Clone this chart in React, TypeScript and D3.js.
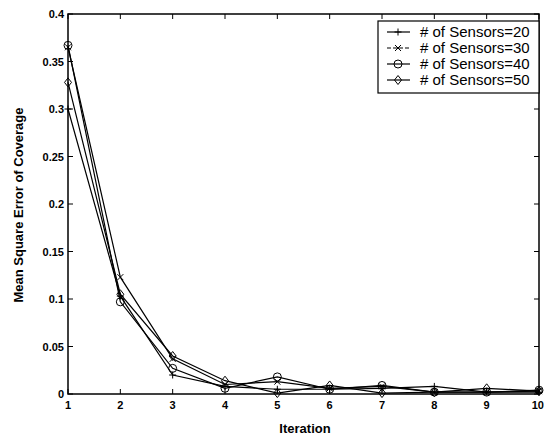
import React, { useRef, useEffect } from 'react';
import * as d3 from 'd3';

const iterations = [1, 2, 3, 4, 5, 6, 7, 8, 9, 10];
const sensors20 = [0.300, 0.103, 0.020, 0.008, 0.005, 0.005, 0.006, 0.008, 0.002, 0.002];
const sensors30 = [0.365, 0.123, 0.037, 0.010, 0.013, 0.006, 0.008, 0.002, 0.002, 0.003];
const sensors40 = [0.367, 0.097, 0.027, 0.006, 0.018, 0.005, 0.009, 0.002, 0.002, 0.004];
const sensors50 = [0.328, 0.105, 0.040, 0.014, 0.001, 0.009, 0.001, 0.002, 0.006, 0.003];
const seriesNames = ['# of Sensors=20', '# of Sensors=30', '# of Sensors=40', '# of Sensors=50'];
const markers = ['plus', 'cross', 'circle', 'diamond'];
const yTicks = [0, 0.05, 0.1, 0.15, 0.2, 0.25, 0.3, 0.35, 0.4];

const App = () => {
  const svgRef = useRef(null);

  useEffect(() => {
    const svg = d3.select(svgRef.current);
    svg.selectAll('*').remove();

    const width = 544;
    const height = 438;
    const margin = { top: 14, right: 5, bottom: 44, left: 68 };
    const plotW = width - margin.left - margin.right;
    const plotH = height - margin.top - margin.bottom;
    const font = '"Liberation Sans", Arial, sans-serif';

    const x = d3.scaleLinear().domain([1, 10]).range([margin.left, margin.left + plotW]);
    const y = d3.scaleLinear().domain([0, 0.4]).range([margin.top + plotH, margin.top]);

    const series = [sensors20, sensors30, sensors40, sensors50];

    // box
    svg.append('rect')
      .attr('x', margin.left).attr('y', margin.top)
      .attr('width', plotW).attr('height', plotH)
      .attr('fill', 'none').attr('stroke', '#000').attr('stroke-width', 1.5);

    // inward ticks on all four sides
    const tickLen = 5;
    const g = svg.append('g').attr('stroke', '#000').attr('stroke-width', 1);
    yTicks.forEach(t => {
      g.append('line').attr('x1', margin.left).attr('x2', margin.left + tickLen).attr('y1', y(t)).attr('y2', y(t));
      g.append('line').attr('x1', margin.left + plotW).attr('x2', margin.left + plotW - tickLen).attr('y1', y(t)).attr('y2', y(t));
    });
    iterations.forEach(t => {
      g.append('line').attr('x1', x(t)).attr('x2', x(t)).attr('y1', y(0)).attr('y2', y(0) - tickLen);
      g.append('line').attr('x1', x(t)).attr('x2', x(t)).attr('y1', y(0.4)).attr('y2', y(0.4) + tickLen);
    });

    // tick labels
    svg.append('g').selectAll('text').data(yTicks).enter().append('text')
      .attr('x', margin.left - 4).attr('y', d => y(d) + 4)
      .attr('text-anchor', 'end')
      .attr('font-family', font).attr('font-size', 11).attr('font-weight', 'bold')
      .text(d => String(d));

    svg.append('g').selectAll('text').data(iterations).enter().append('text')
      .attr('x', d => (d === 10 ? width : x(d)))
      .attr('y', y(0) + 15)
      .attr('text-anchor', d => (d === 10 ? 'end' : 'middle'))
      .attr('font-family', font).attr('font-size', 11).attr('font-weight', 'bold')
      .text(d => String(d));

    // axis labels
    svg.append('text')
      .attr('x', 305).attr('y', 433)
      .attr('text-anchor', 'middle')
      .attr('font-family', font).attr('font-size', 13).attr('font-weight', 'bold')
      .text('Iteration');

    svg.append('text')
      .attr('transform', `translate(23,205) rotate(-90)`)
      .attr('text-anchor', 'middle')
      .attr('font-family', font).attr('font-size', 13).attr('font-weight', 'bold')
      .text('Mean Square Error of Coverage');

    const drawMarker = (sel, type, cx, cy) => {
      const s = 3.5;
      if (type === 'plus') {
        sel.append('path').attr('d', `M${cx - s},${cy}H${cx + s}M${cx},${cy - s}V${cy + s}`)
          .attr('stroke', '#000').attr('fill', 'none');
      } else if (type === 'cross') {
        const c = 3;
        sel.append('path').attr('d', `M${cx - c},${cy - c}L${cx + c},${cy + c}M${cx - c},${cy + c}L${cx + c},${cy - c}`)
          .attr('stroke', '#000').attr('fill', 'none');
      } else if (type === 'circle') {
        sel.append('circle').attr('cx', cx).attr('cy', cy).attr('r', 4)
          .attr('stroke', '#000').attr('fill', 'none');
      } else {
        sel.append('path').attr('d', `M${cx},${cy - 4.5}L${cx + 3.5},${cy}L${cx},${cy + 4.5}L${cx - 3.5},${cy}Z`)
          .attr('stroke', '#000').attr('fill', 'none');
      }
    };

    const line = d3.line()
      .x((d, i) => x(iterations[i]))
      .y(d => y(d));

    const plot = svg.append('g');
    series.forEach((vals, si) => {
      plot.append('path')
        .datum(vals)
        .attr('fill', 'none')
        .attr('stroke', '#000')
        .attr('stroke-width', 1.2)
        .attr('d', line);
      vals.forEach((v, i) => drawMarker(plot, markers[si], x(iterations[i]), y(v)));
    });

    // legend
    const lx = 378, ly = 21, lw = 161, lh = 72;
    svg.append('rect')
      .attr('x', lx).attr('y', ly).attr('width', lw).attr('height', lh)
      .attr('fill', '#fff').attr('stroke', '#000').attr('stroke-width', 1.2);
    seriesNames.forEach((name, i) => {
      const ry = ly + 11 + i * 16;
      const lg = svg.append('g');
      lg.append('line').attr('x1', lx + 9).attr('x2', lx + 32).attr('y1', ry).attr('y2', ry)
        .attr('stroke', '#000').attr('stroke-width', 1.2).attr('stroke-dasharray', i === 1 ? '4,2' : null);
      drawMarker(lg, markers[i], lx + 20, ry);
      lg.append('text')
        .attr('x', lx + 42).attr('y', ry + 5)
        .attr('font-family', font).attr('font-size', 15)
        .text(name);
    });
  }, []);

  return (
    <svg ref={svgRef} width={544} height={438} style={{ position: 'absolute', left: 0, top: 0, background: '#fff' }} />
  );
};

export default App;
